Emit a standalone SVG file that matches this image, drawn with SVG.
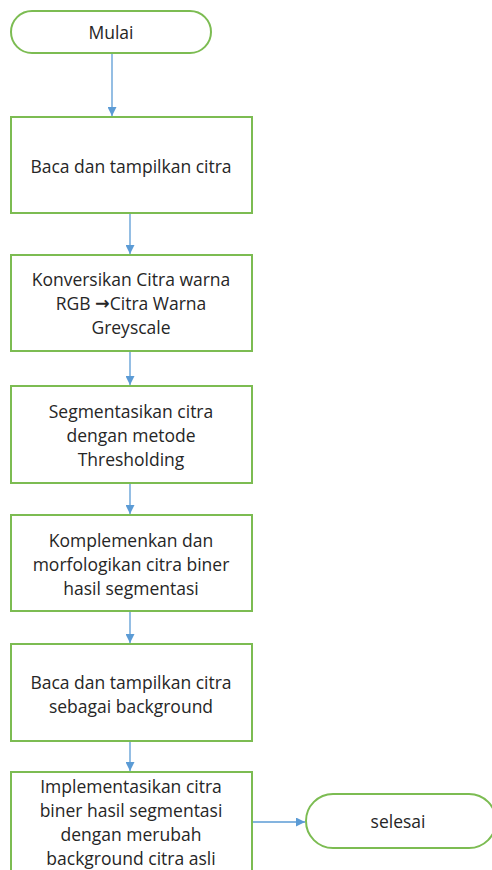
<svg xmlns="http://www.w3.org/2000/svg" width="492" height="870" viewBox="0 0 492 870">
<style>
.n{fill:#fff;stroke:#7cbc52;stroke-width:2}
.t{font-family:"Open Sans","Liberation Sans",sans-serif;font-size:17.5px;fill:#262626;text-anchor:middle;dominant-baseline:central}
.ar{font-family:"DejaVu Sans",sans-serif;font-weight:bold}
.c{stroke:#5b9bd5;stroke-width:1.3;fill:none;marker-end:url(#a)}
</style>
<defs>
<marker id="a" viewBox="0 0 10 10" refX="10" refY="5" markerWidth="9" markerHeight="9" markerUnits="userSpaceOnUse" orient="auto">
<path d="M0,0 L10,5 L0,10 z" fill="#5b9bd5"/>
</marker>
</defs>
<rect width="492" height="870" fill="#fff"/>
<g id="connectors">
<line class="c" x1="112" y1="53" x2="112" y2="116"/>
<line class="c" x1="130" y1="214" x2="130" y2="254"/>
<line class="c" x1="130" y1="352" x2="130" y2="385"/>
<line class="c" x1="130" y1="484" x2="130" y2="514"/>
<line class="c" x1="130" y1="612" x2="130" y2="643"/>
<line class="c" x1="130" y1="741" x2="130" y2="771"/>
<line class="c" x1="252" y1="822" x2="305" y2="822"/>
</g>
<g id="mulai">
<rect class="n" x="11" y="11" width="200" height="42" rx="21" ry="21"/>
<text class="t" x="111" y="32">Mulai</text>
</g>
<g id="baca">
<rect class="n" x="11" y="117" width="241" height="96"/>
<text class="t" x="131" y="166">Baca dan tampilkan citra</text>
</g>
<g id="konversi">
<rect class="n" x="11" y="255" width="241" height="96"/>
<text class="t" x="131" y="279">Konversikan Citra warna</text>
<text class="t" x="131" y="303">RGB <tspan class="ar">→</tspan>Citra Warna</text>
<text class="t" x="131" y="327">Greyscale</text>
</g>
<g id="segmentasi">
<rect class="n" x="11" y="386" width="241" height="97"/>
<text class="t" x="131" y="411">Segmentasikan citra</text>
<text class="t" x="131" y="435">dengan metode</text>
<text class="t" x="131" y="459">Thresholding</text>
</g>
<g id="komplemen">
<rect class="n" x="11" y="515" width="241" height="96"/>
<text class="t" x="131" y="540">Komplemenkan dan</text>
<text class="t" x="131" y="564">morfologikan citra biner</text>
<text class="t" x="131" y="588">hasil segmentasi</text>
</g>
<g id="background">
<rect class="n" x="11" y="644" width="241" height="97"/>
<text class="t" x="131" y="682">Baca dan tampilkan citra</text>
<text class="t" x="131" y="706">sebagai background</text>
</g>
<g id="implementasi">
<rect class="n" x="11" y="772" width="241" height="100"/>
<text class="t" x="131" y="786">Implementasikan citra</text>
<text class="t" x="131" y="810">biner hasil segmentasi</text>
<text class="t" x="131" y="834">dengan merubah</text>
<text class="t" x="131" y="858">background citra asli</text>
</g>
<g id="selesai">
<rect class="n" x="306" y="794" width="190" height="54" rx="27" ry="27"/>
<text class="t" x="398" y="821">selesai</text>
</g>
</svg>
